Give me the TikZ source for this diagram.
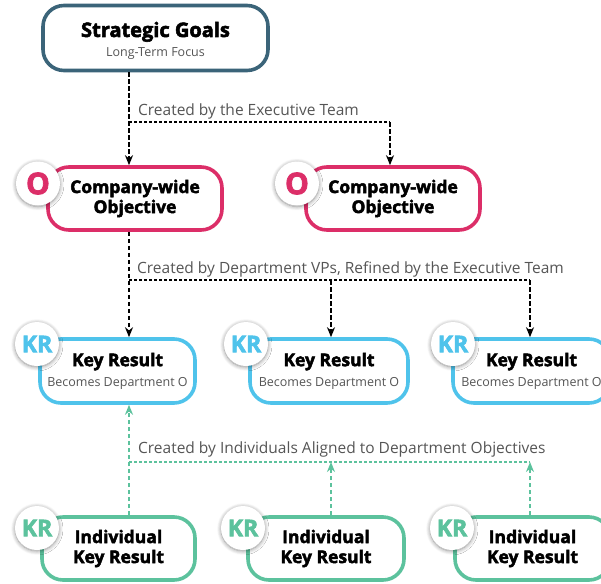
\documentclass[tikz,border=0pt]{standalone}
\usepackage{fontspec}
\setmainfont{Open Sans}[BoldFeatures={FakeBold=2.6}]
\usetikzlibrary{arrows.meta,positioning,shadows.blur}
\definecolor{goalblue}{HTML}{3B6479}
\definecolor{objpink}{HTML}{DC2E68}
\definecolor{krblue}{HTML}{4FC3EB}
\definecolor{indgreen}{HTML}{5CC29D}
\definecolor{notegray}{HTML}{555555}

\tikzset{
  card/.style={draw, line width=3.6pt, rounded corners=21pt, fill=white,
    minimum height=63pt, align=center, inner sep=0pt,
    font=\fontsize{17.5}{20}\selectfont},
  badge/.style={circle, fill=white, minimum size=44pt, inner sep=0pt,
    font=\bfseries\fontsize{23}{23}\selectfont,
    blur shadow={shadow blur steps=8, shadow blur radius=4pt,
      shadow xshift=0pt, shadow yshift=-1pt, shadow opacity=45}},
  link/.style={line width=1.7pt, dash pattern=on 4.5pt off 2.5pt},
  branch/.style={line width=1.1pt, dash pattern=on 3pt off 2pt},
  tip/.style={-{Stealth[length=10pt,width=8pt]}},
  note/.style={anchor=base west, text=notegray, inner sep=0pt,
    font=\fontsize{15.5}{16}\selectfont},
}
\newcommand{\subline}[1]{{\fontsize{12.5}{20}\selectfont\color{notegray}#1}}

\begin{document}
\begin{tikzpicture}[x=1pt,y=-1pt]
\useasboundingbox (0,0) rectangle (601,583);
\clip (0,0) rectangle (601,583);

% top level
\node[card, draw=goalblue, minimum width=225pt, minimum height=65pt] (goal) at (155.5,38)
  {\rule{0pt}{21pt}{\fontsize{20}{20}\selectfont\bfseries Strategic Goals}\\\subline{Long-Term Focus}};

% company objectives
\node[card, draw=objpink, minimum width=174pt] (obj1) at (135,198.5)
  {\bfseries Company-wide\\\bfseries Objective};
\node[card, draw=objpink, minimum width=174pt] (obj2) at (393,198.5)
  {\bfseries Company-wide\\\bfseries Objective};

% key results
\node[card, draw=krblue, minimum width=155pt, minimum height=64pt] (kr1) at (117.5,371)
  {\bfseries Key Result\\\subline{Becomes Department O}};
\node[card, draw=krblue, minimum width=158pt, minimum height=64pt] (kr2) at (329,371)
  {\bfseries Key Result\\\subline{Becomes Department O}};
\node[card, draw=krblue, minimum width=157pt, minimum height=64pt] (kr3) at (531.5,371)
  {\bfseries Key Result\\\subline{Becomes Department O}};

% individual key results
\node[card, draw=indgreen, minimum width=153pt] (ind1) at (118.5,548.5)
  {\bfseries Individual\\\bfseries Key Result};
\node[card, draw=indgreen, minimum width=156pt] (ind2) at (326,548.5)
  {\bfseries Individual\\\bfseries Key Result};
\node[card, draw=indgreen, minimum width=155pt] (ind3) at (532.5,548.5)
  {\bfseries Individual\\\bfseries Key Result};

% badges
\node[badge, text=objpink, font=\bfseries\fontsize{30}{30}\selectfont] (b-obj1) at (38,183.5) {O};
\node[badge, text=objpink, font=\bfseries\fontsize{30}{30}\selectfont] (b-obj2) at (297,183.5) {O};
\node[badge, text=krblue] (b-kr1) at (37,344) {KR};
\node[badge, text=krblue] (b-kr2) at (246,344) {KR};
\node[badge, text=krblue] (b-kr3) at (453,344) {KR};
\node[badge, text=indgreen] (b-ind1) at (37,528) {KR};
\node[badge, text=indgreen] (b-ind2) at (243,528) {KR};
\node[badge, text=indgreen] (b-ind3) at (452,528) {KR};

% executive team
\coordinate (e1) at (129,122);
\coordinate (e2) at (390,122);
\draw[link, tip] (e1 |- goal.south) -- (e1 |- obj1.north);
\draw[branch] (e1) -- (e2);
\draw[link, tip] (e2) -- (e2 |- obj2.north);
\node[note] (n-exec) at (138,115) {Created by the Executive Team};

% department VPs
\coordinate (d1) at (129,280);
\coordinate (d2) at (331,280);
\coordinate (d3) at (530,280);
\draw[link, tip] (d1 |- obj1.south) -- (d1 |- kr1.north);
\draw[branch] (d1) -- (d3);
\draw[link, tip] (d2) -- (d2 |- kr2.north);
\draw[link, tip] (d3) -- (d3 |- kr3.north);
\node[note] (n-dept) at (137,273) {Created by Department VPs, Refined by the Executive Team};

% individuals
\coordinate (i1) at (129,462);
\coordinate (i2) at (331,462);
\coordinate (i3) at (530,462);
\draw[link, indgreen, tip] (i1 |- ind1.north) -- (i1 |- kr1.south);
\draw[branch, indgreen] (i1) -- (i3);
\draw[link, indgreen, tip] (i2 |- ind2.north) -- (i2);
\draw[link, indgreen, tip] (i3 |- ind3.north) -- (i3);
\node[note] (n-ind) at (138,453) {Created by Individuals Aligned to Department Objectives};
\end{tikzpicture}
\end{document}
